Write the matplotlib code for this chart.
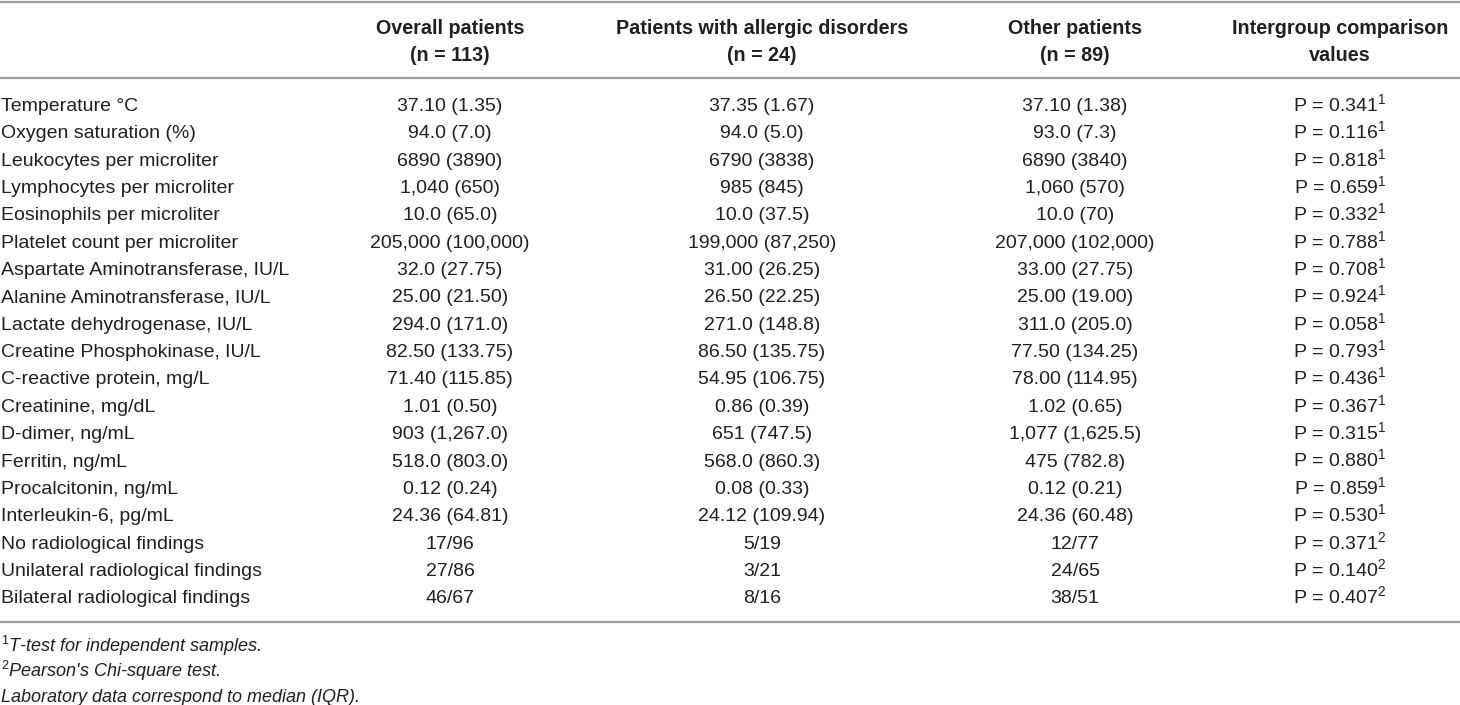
import matplotlib
matplotlib.use('Agg')
from matplotlib import pyplot as plt

plt.rcParams['font.family'] = ['Liberation Sans', 'DejaVu Sans']
plt.rcParams['mathtext.fontset'] = 'custom'
plt.rcParams['mathtext.rm'] = 'Liberation Sans'
plt.rcParams['mathtext.it'] = 'Liberation Sans:italic'

# table content
headers = ['Overall patients', 'Patients with allergic disorders',
           'Other patients', 'Intergroup comparison']
subheaders = ['(n = 113)', '(n = 24)', '(n = 89)', 'values']

row_labels = [
    'Temperature °C', 'Oxygen saturation (%)', 'Leukocytes per microliter',
    'Lymphocytes per microliter', 'Eosinophils per microliter',
    'Platelet count per microliter', 'Aspartate Aminotransferase, IU/L',
    'Alanine Aminotransferase, IU/L', 'Lactate dehydrogenase, IU/L',
    'Creatine Phosphokinase, IU/L', 'C-reactive protein, mg/L',
    'Creatinine, mg/dL', 'D-dimer, ng/mL', 'Ferritin, ng/mL',
    'Procalcitonin, ng/mL', 'Interleukin-6, pg/mL',
    'No radiological findings', 'Unilateral radiological findings',
    'Bilateral radiological findings']

overall = ['37.10 (1.35)', '94.0 (7.0)', '6890 (3890)', '1,040 (650)',
           '10.0 (65.0)', '205,000 (100,000)', '32.0 (27.75)', '25.00 (21.50)',
           '294.0 (171.0)', '82.50 (133.75)', '71.40 (115.85)', '1.01 (0.50)',
           '903 (1,267.0)', '518.0 (803.0)', '0.12 (0.24)', '24.36 (64.81)',
           '17/96', '27/86', '46/67']

allergic = ['37.35 (1.67)', '94.0 (5.0)', '6790 (3838)', '985 (845)',
            '10.0 (37.5)', '199,000 (87,250)', '31.00 (26.25)', '26.50 (22.25)',
            '271.0 (148.8)', '86.50 (135.75)', '54.95 (106.75)', '0.86 (0.39)',
            '651 (747.5)', '568.0 (860.3)', '0.08 (0.33)', '24.12 (109.94)',
            '5/19', '3/21', '8/16']

other = ['37.10 (1.38)', '93.0 (7.3)', '6890 (3840)', '1,060 (570)',
         '10.0 (70)', '207,000 (102,000)', '33.00 (27.75)', '25.00 (19.00)',
         '311.0 (205.0)', '77.50 (134.25)', '78.00 (114.95)', '1.02 (0.65)',
         '1,077 (1,625.5)', '475 (782.8)', '0.12 (0.21)', '24.36 (60.48)',
         '12/77', '24/65', '38/51']

p_values = ['0.341', '0.116', '0.818', '0.659', '0.332', '0.788', '0.708',
            '0.924', '0.058', '0.793', '0.436', '0.367', '0.315', '0.880',
            '0.859', '0.530', '0.371', '0.140', '0.407']
p_test = [1] * 16 + [2] * 3

footnotes = ['$^{1}$T-test for independent samples.',
             "$^{2}$Pearson's Chi-square test.",
             'Laboratory data correspond to median (IQR).']

W, H = 1460, 705
fig = plt.figure(figsize=(W / 100, H / 100), dpi=100)
ax = fig.add_axes([0, 0, 1, 1])
ax.set_xlim(0, W)
ax.set_ylim(H, 0)
ax.axis('off')

col_x = [450, 762, 1075, 1340]
fs = 14
fs_head = 14.2
fs_note = 13
ink = '#231f20'
line_color = '#a0a0a0'

# rules
for y in (1.5, 78, 622):
    ax.axhline(y, color=line_color, lw=1.6)

# header (baselines)
for x, h, s in zip(col_x, headers, subheaders):
    ax.text(x, 34, h, ha='center', va='baseline', fontsize=fs_head,
            fontweight='bold', color=ink)
    ax.text(x, 61, s, ha='center', va='baseline', fontsize=fs_head,
            fontweight='bold', color=ink)

# body, drawn on baselines so the superscripts do not shift the rows
y0, step = 111, 27.35
for i, lab in enumerate(row_labels):
    y = y0 + i * step
    kw = dict(va='baseline', fontsize=fs, color=ink)
    ax.text(1, y, lab, ha='left', **kw)
    ax.text(col_x[0], y, overall[i], ha='center', **kw)
    ax.text(col_x[1], y, allergic[i], ha='center', **kw)
    ax.text(col_x[2], y, other[i], ha='center', **kw)
    ax.text(col_x[3], y, f'P = {p_values[i]}$^{{{p_test[i]}}}$', ha='center', **kw)

# footnotes
for j, note in enumerate(footnotes):
    ax.text(1, 652 + j * 25, note, ha='left', va='baseline', fontsize=fs_note,
            style='italic', color=ink)

fig.savefig('out.png', dpi=100)
